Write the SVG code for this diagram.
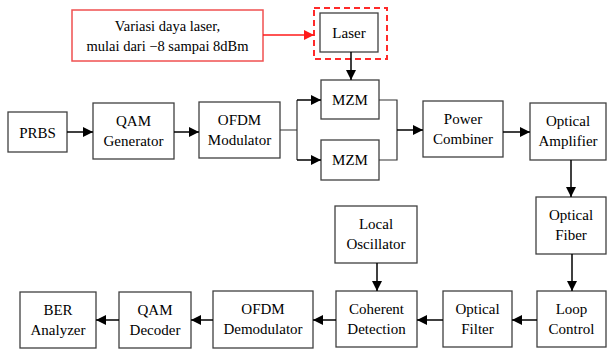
<svg xmlns="http://www.w3.org/2000/svg" width="608" height="349" viewBox="0 0 608 349">
<defs>
<marker id="ah" viewBox="0 0 10 10" refX="10" refY="5" markerWidth="10" markerHeight="10" markerUnits="userSpaceOnUse" orient="auto"><path d="M0,0 L10,5 L0,10 Z" fill="#000"/></marker>
<marker id="ahr" viewBox="0 0 10 10" refX="10" refY="5" markerWidth="10" markerHeight="10" markerUnits="userSpaceOnUse" orient="auto"><path d="M0,0 L10,5 L0,10 Z" fill="#ff1a1a"/></marker>
</defs>
<style>
.b{fill:#fff;stroke:#404040;stroke-width:1.3}
text{font-family:'Liberation Serif','DejaVu Serif',serif;font-size:15px;fill:#000;text-anchor:middle}
.c{fill:none;stroke:#000;stroke-width:1.5}
.w{fill:none;stroke:#333;stroke-width:1.2}
.n{font-size:14.5px}
</style>
<rect width="608" height="349" fill="#fff"/>
<g id="note">
<rect x="72" y="10" width="191" height="51" fill="#fff" stroke="#f05050" stroke-width="1.5"/>
<text class="n" x="167.5" y="31" font-family="Liberation Serif">Variasi daya laser,</text>
<text class="n" x="167.5" y="51" font-family="Liberation Serif">mulai dari −8 sampai 8dBm</text>
</g>
<g id="laser-highlight"><rect x="314" y="8" width="73" height="51" fill="none" stroke="#ff2a2a" stroke-width="2" stroke-dasharray="6,4"/></g>
<g id="laser"><rect class="b" x="320" y="13" width="58" height="39"/><text x="349" y="38">Laser</text></g>
<g id="mzm1"><rect class="b" x="321" y="80" width="58" height="39"/><text x="350" y="105">MZM</text></g>
<g id="mzm2"><rect class="b" x="321" y="140" width="58" height="40"/><text x="350" y="165">MZM</text></g>
<g id="prbs"><rect class="b" x="8" y="112" width="59" height="40"/><text x="37.5" y="138">PRBS</text></g>
<g id="qamgen"><rect class="b" x="93" y="103" width="81" height="56"/><text x="133.5" y="125.5">QAM</text><text x="133.5" y="145.5">Generator</text></g>
<g id="ofdmmod"><rect class="b" x="199" y="102" width="81" height="56"/><text x="239.5" y="124.5">OFDM</text><text x="239.5" y="144.5">Modulator</text></g>
<g id="combiner"><rect class="b" x="423" y="101" width="80" height="56"/><text x="463" y="123.5">Power</text><text x="463" y="143.5">Combiner</text></g>
<g id="amplifier"><rect class="b" x="530" y="103" width="76" height="57"/><text x="568" y="126">Optical</text><text x="568" y="146">Amplifier</text></g>
<g id="fiber"><rect class="b" x="536" y="197" width="70" height="57"/><text x="571" y="220">Optical</text><text x="571" y="240">Fiber</text></g>
<g id="loop"><rect class="b" x="537" y="291" width="69" height="56"/><text x="571.5" y="313.5">Loop</text><text x="571.5" y="333.5">Control</text></g>
<g id="filter"><rect class="b" x="443" y="291" width="69" height="56"/><text x="477.5" y="313.5">Optical</text><text x="477.5" y="333.5">Filter</text></g>
<g id="coherent"><rect class="b" x="336" y="291" width="81" height="56"/><text x="376.5" y="313.5">Coherent</text><text x="376.5" y="333.5">Detection</text></g>
<g id="lo"><rect class="b" x="335" y="206" width="82" height="57"/><text x="376" y="228.5">Local</text><text x="376" y="248.5">Oscillator</text></g>
<g id="ofdmdemod"><rect class="b" x="213" y="291" width="100" height="57"/><text x="263" y="313.5">OFDM</text><text x="263" y="333.5">Demodulator</text></g>
<g id="qamdec"><rect class="b" x="119" y="292" width="72" height="56"/><text x="155" y="314.5">QAM</text><text x="155" y="334.5">Decoder</text></g>
<g id="ber"><rect class="b" x="20" y="292" width="76" height="56"/><text x="58" y="314.5">BER</text><text x="58" y="334.5">Analyzer</text></g>
<g id="connectors">
<line x1="263" y1="35" x2="314" y2="35" stroke="#ff1a1a" stroke-width="1.5" marker-end="url(#ahr)"/>
<line class="c" x1="351" y1="52" x2="351" y2="80" marker-end="url(#ah)"/>
<line class="c" x1="67" y1="132" x2="93" y2="132" marker-end="url(#ah)"/>
<line class="c" x1="174" y1="132" x2="199" y2="132" marker-end="url(#ah)"/>
<path class="w" d="M280,130 H297 M297,100 V160"/>
<line class="c" x1="297" y1="100" x2="321" y2="100" marker-end="url(#ah)"/>
<line class="c" x1="297" y1="160" x2="321" y2="160" marker-end="url(#ah)"/>
<path class="w" d="M379,100 H397 V160 H379"/>
<line class="c" x1="397" y1="130" x2="423" y2="130" marker-end="url(#ah)"/>
<line class="c" x1="503" y1="132" x2="530" y2="132" marker-end="url(#ah)"/>
<line class="c" x1="571" y1="160" x2="571" y2="197" marker-end="url(#ah)"/>
<line class="c" x1="572" y1="254" x2="572" y2="291" marker-end="url(#ah)"/>
<line class="c" x1="537" y1="320" x2="512" y2="320" marker-end="url(#ah)"/>
<line class="c" x1="443" y1="320" x2="417" y2="320" marker-end="url(#ah)"/>
<line class="c" x1="377" y1="263" x2="377" y2="291" marker-end="url(#ah)"/>
<line class="c" x1="336" y1="320" x2="313" y2="320" marker-end="url(#ah)"/>
<line class="c" x1="213" y1="320" x2="191" y2="320" marker-end="url(#ah)"/>
<line class="c" x1="119" y1="320" x2="96" y2="320" marker-end="url(#ah)"/>
</g>
</svg>
